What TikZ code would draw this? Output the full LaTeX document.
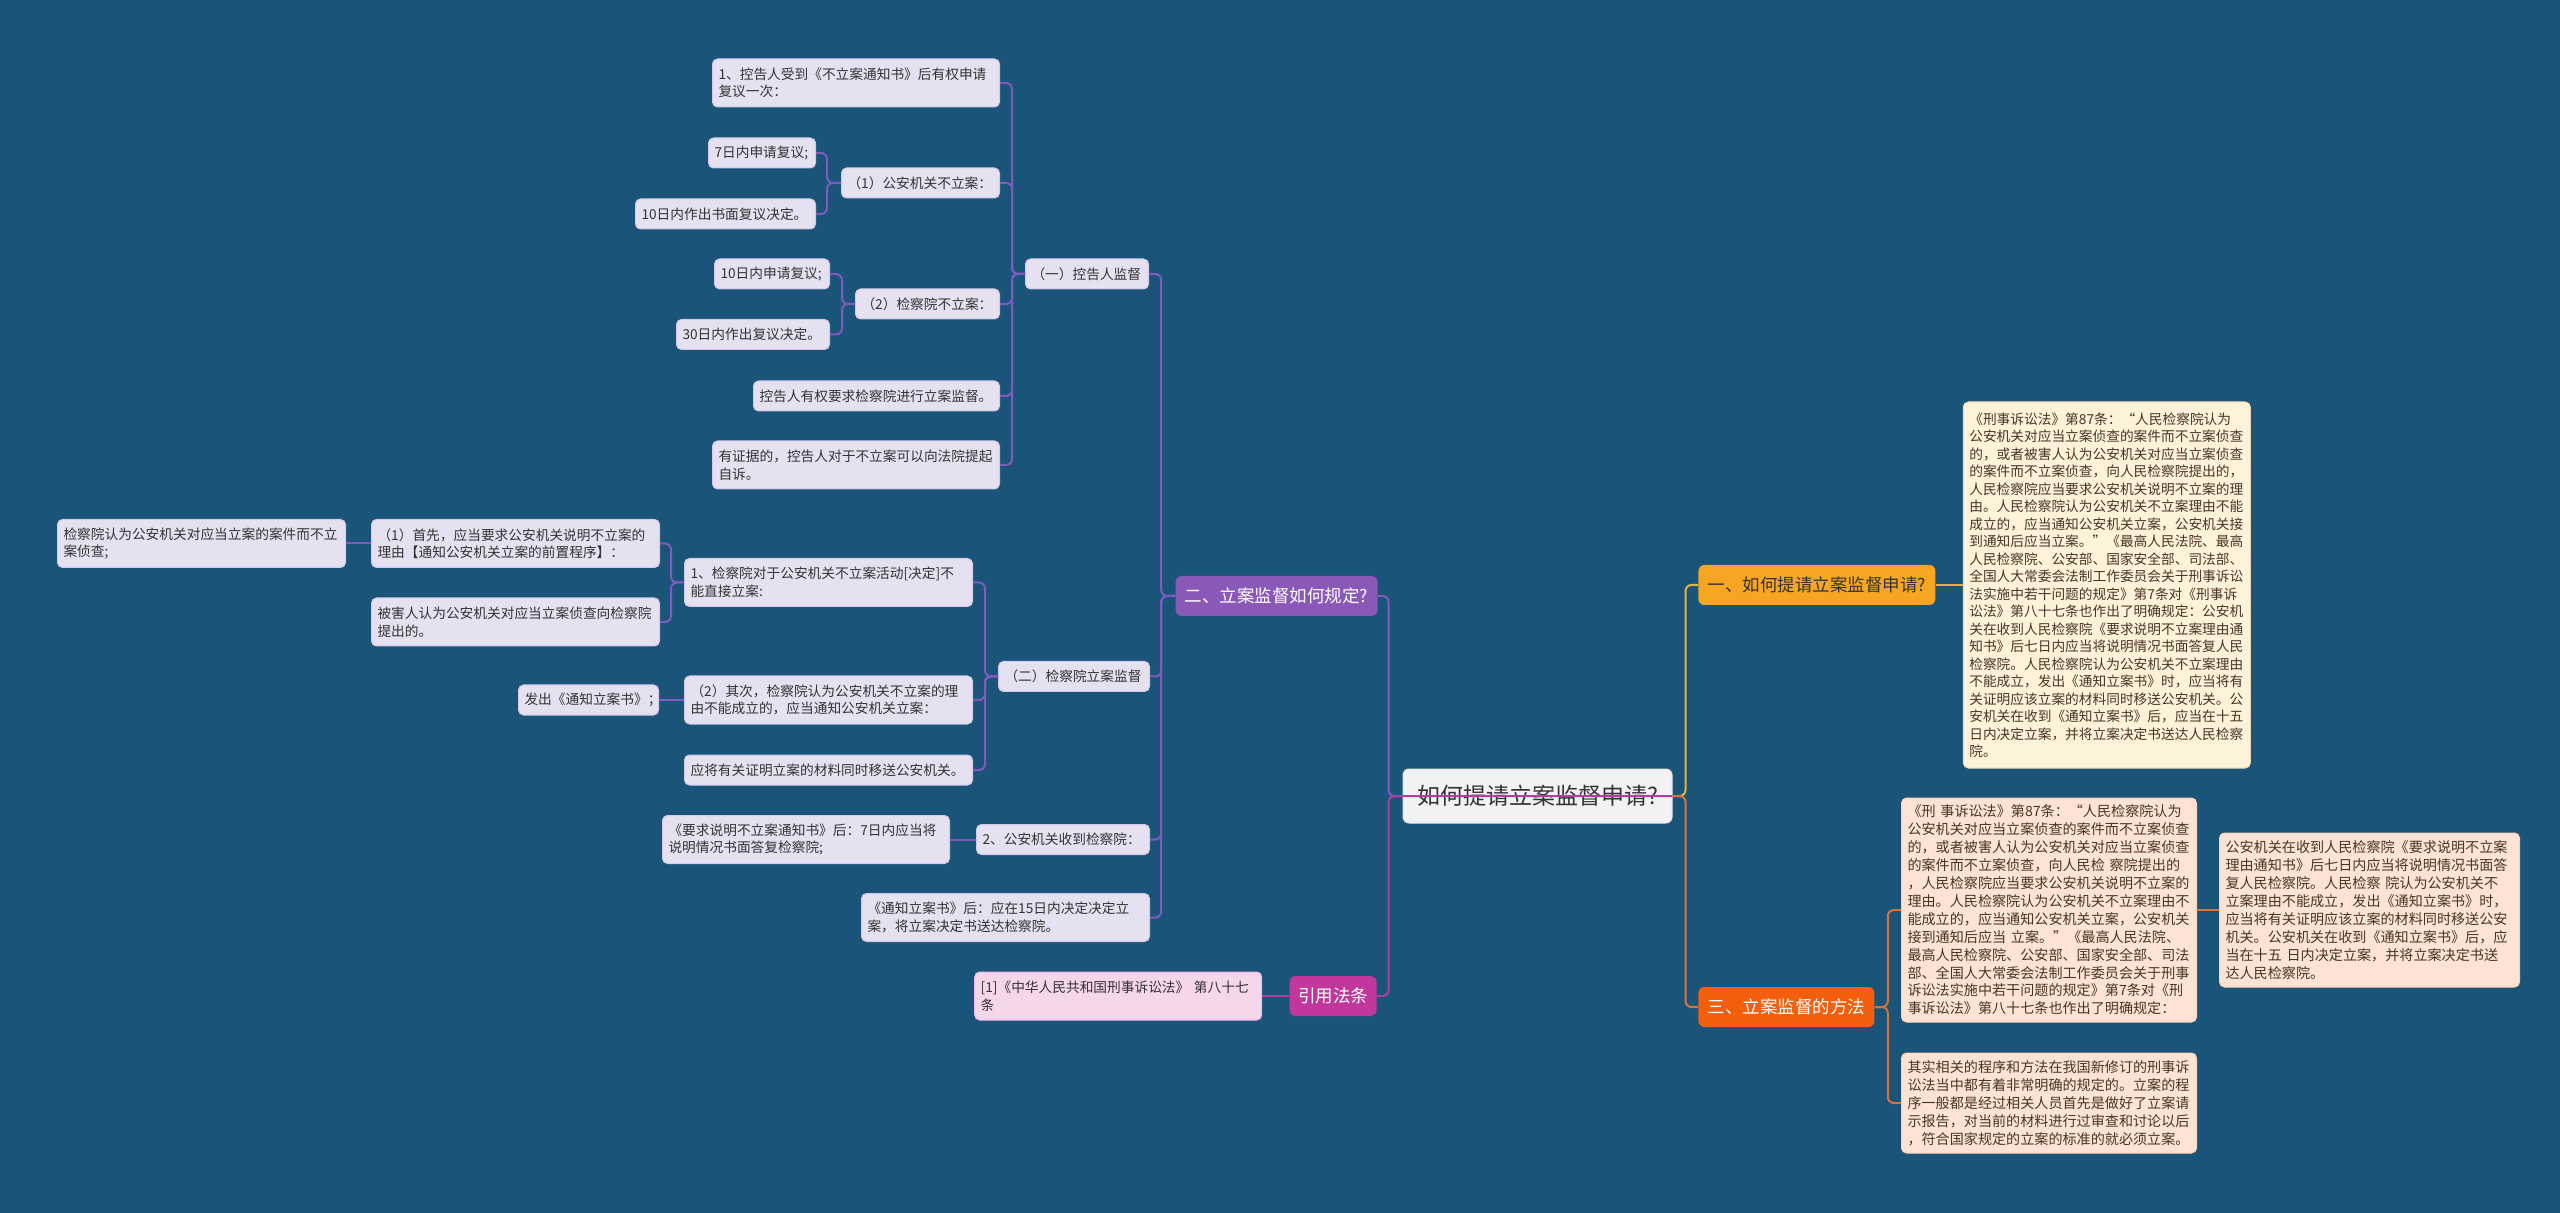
\documentclass[tikz,border=0pt]{standalone}
\usepackage{fontspec}
\setmainfont{Noto Sans CJK SC}
\usepackage{tikz}
\usetikzlibrary{positioning}

\definecolor{bgblue}{HTML}{1A5478}
\definecolor{leaffill}{HTML}{E5E1F1}
\definecolor{leafedge}{HTML}{D2CAE8}
\definecolor{purplelinkc}{HTML}{7F5BC0}
\definecolor{twofill}{HTML}{8A58B6}
\definecolor{citefill}{HTML}{C1379B}
\definecolor{citelinkc}{HTML}{B23F9D}
\definecolor{reffill}{HTML}{F5D6EB}
\definecolor{onefill}{HTML}{F6A623}
\definecolor{onelinkc}{HTML}{E2B242}
\definecolor{notefill}{HTML}{FDF2DA}
\definecolor{noteedge}{HTML}{EED9AE}
\definecolor{threefill}{HTML}{F45F0D}
\definecolor{threelinkc}{HTML}{D9733A}
\definecolor{peachfill}{HTML}{FDE3D5}
\definecolor{rootfill}{HTML}{F1F2F4}
\definecolor{inkdark}{HTML}{333333}
\definecolor{inkbrown}{HTML}{4A3522}

\newcommand{\leaffont}{\fontsize{6.85pt}{8.75pt}\selectfont}
\newcommand{\notefont}{\fontsize{7.05pt}{8.95pt}\selectfont}
\newcommand{\topfont}{\fontsize{8.75pt}{10pt}\selectfont}
\newcommand{\rootfont}{\fontsize{11.5pt}{13pt}\selectfont}

\begin{document}
\begin{tikzpicture}[
    x=0.5pt, y=-0.5pt,
    % --- node styles ---
    leaf/.style={
      rectangle, rounded corners=2.5pt, fill=leaffill, draw=leafedge,
      line width=0.5pt, text=inkdark, font=\leaffont, align=left,
      inner xsep=3pt, inner ysep=1.5pt, minimum height=15pt, anchor=east},
    twolines/.style={minimum height=24pt},
    note/.style={
      rectangle, rounded corners=2.5pt, fill=notefill, draw=noteedge,
      line width=0.5pt, text=inkbrown, font=\leaffont, align=left,
      inner xsep=3pt, inner ysep=1.5pt, anchor=west},
    peach/.style={
      note, fill=peachfill, draw=peachfill!85!orange, font=\notefont},
    refbox/.style={leaf, fill=reffill, draw=reffill!85!magenta},
    topic/.style={
      rectangle, rounded corners=3pt, minimum height=20pt, align=center,
      font=\topfont, inner sep=2pt},
    root/.style={
      rectangle, rounded corners=3pt, fill=rootfill, draw=white!80!gray,
      line width=0.5pt, minimum width=134.5pt, minimum height=27pt,
      font=\rootfont, text=inkdark},
    % --- connector styles ---
    purplelink/.style={draw=purplelinkc, line width=1pt, rounded corners=3pt},
    citelink/.style={draw=citelinkc, line width=1pt, rounded corners=3pt},
    onelink/.style={draw=onelinkc, line width=1pt, rounded corners=3pt},
    threelink/.style={draw=threelinkc, line width=1pt, rounded corners=3pt},
  ]

  \fill[bgblue] (0,0) rectangle (2560,1213);
  \useasboundingbox (0,0) rectangle (2560,1213);

  % ============== ROOT ==============
  \node[root] (root) at (1537.5,796) {如何提请立案监督申请?};

  % ============== MAIN TOPICS ==============
  \node[topic, fill=twofill, text=white, minimum width=101pt, anchor=east]
    (twotopic) at (1378,596) {二、立案监督如何规定?};
  \node[topic, fill=citefill, text=white, minimum width=43.5pt, anchor=east]
    (citetopic) at (1377,996) {引用法条};
  \node[topic, fill=onefill, text=inkdark, minimum width=118.5pt, anchor=west]
    (onetopic) at (1698,585) {一、如何提请立案监督申请?};
  \node[topic, fill=threefill, text=white, minimum width=88pt, anchor=west]
    (threetopic) at (1698,1007) {三、立案监督的方法};

  % ============== (一) COMPLAINANT BRANCH ==============
  \node[leaf, text width=55.5pt] (accuser) at (1149,274) {（一）控告人监督};
  \node[leaf, twolines, text width=137.5pt] (notice) at (1000,83)
    {1、控告人受到《不立案通知书》后有权申请\\复议一次：};
  \node[leaf, text width=73pt] (police) at (1000,183) {（1）公安机关不立案：};
  \node[leaf, text width=47.5pt] (sevenday) at (816,153) {7日内申请复议;};
  \node[leaf, text width=84pt] (tenwritten) at (816,214) {10日内作出书面复议决定。};
  \node[leaf, text width=66pt] (procur) at (1000,304) {（2）检察院不立案：};
  \node[leaf, text width=51.5pt] (tenday) at (830,274) {10日内申请复议;};
  \node[leaf, text width=70.5pt] (thirtyday) at (830,334.5) {30日内作出复议决定。};
  \node[leaf, text width=117pt] (request) at (1000,396) {控告人有权要求检察院进行立案监督。};
  \node[leaf, twolines, text width=137.5pt] (selfsuit) at (1000,465)
    {有证据的，控告人对于不立案可以向法院提起\\自诉。};

  % ============== (二) PROCURATORATE BRANCH ==============
  \node[leaf, text width=69.5pt] (procsup) at (1150,676.5) {（二）检察院立案监督};
  \node[leaf, twolines, text width=138pt] (nodirect) at (973,582.5)
    {1、检察院对于公安机关不立案活动[决定]不\\能直接立案:};
  \node[leaf, twolines, text width=138pt] (firstask) at (660,543.5)
    {（1）首先，应当要求公安机关说明不立案的\\理由【通知公安机关立案的前置程序】：};
  \node[leaf, twolines, text width=138pt, left=12.5pt of firstask] (procview)
    {检察院认为公安机关对应当立案的案件而不立\\案侦查;};
  \node[leaf, twolines, text width=138pt] (victim) at (660,622)
    {被害人认为公安机关对应当立案侦查向检察院\\提出的。};
  \node[leaf, twolines, text width=138pt] (secondly) at (973,700)
    {（2）其次，检察院认为公安机关不立案的理\\由不能成立的，应当通知公安机关立案：};
  \node[leaf, text width=64pt, left=12.5pt of secondly] (issue) {发出《通知立案书》；};
  \node[leaf, text width=138pt] (material) at (973,770) {应将有关证明立案的材料同时移送公安机关。};

  % ============== POLICE RECEIPT ==============
  \node[leaf, text width=80.5pt] (receipt) at (1150,839.5) {2、公安机关收到检察院：};
  \node[leaf, twolines, text width=137.5pt, left=13pt of receipt] (sevenreply)
    {《要求说明不立案通知书》后：7日内应当将\\说明情况书面答复检察院;};
  \node[leaf, twolines, text width=138pt] (fifteen) at (1150,917.5)
    {《通知立案书》后：应在15日内决定决定立\\案，将立案决定书送达检察院。};

  % ============== CITED LAW ==============
  \node[refbox, twolines, text width=137.5pt, left=13.5pt of citetopic] (lawref)
    {[1]《中华人民共和国刑事诉讼法》 第八十七\\条};

  % ============== RIGHT NOTES ==============
  \node[note, text width=137.5pt, minimum height=183pt, right=13.5pt of onetopic] (artnote)
    {《刑事诉讼法》第87条：“人民检察院认为\\
     公安机关对应当立案侦查的案件而不立案侦查\\
     的，或者被害人认为公安机关对应当立案侦查\\
     的案件而不立案侦查，向人民检察院提出的，\\
     人民检察院应当要求公安机关说明不立案的理\\
     由。人民检察院认为公安机关不立案理由不能\\
     成立的，应当通知公安机关立案，公安机关接\\
     到通知后应当立案。”《最高人民法院、最高\\
     人民检察院、公安部、国家安全部、司法部、\\
     全国人大常委会法制工作委员会关于刑事诉讼\\
     法实施中若干问题的规定》第7条对《刑事诉\\
     讼法》第八十七条也作出了明确规定：公安机\\
     关在收到人民检察院《要求说明不立案理由通\\
     知书》后七日内应当将说明情况书面答复人民\\
     检察院。人民检察院认为公安机关不立案理由\\
     不能成立，发出《通知立案书》时，应当将有\\
     关证明应该立案的材料同时移送公安机关。公\\
     安机关在收到《通知立案书》后，应当在十五\\
     日内决定立案，并将立案决定书送达人民检察\\
     院。};

  \node[peach, text width=141.5pt, minimum height=112pt] (methodnote) at (1901,910)
    {《刑 事诉讼法》第87条：“人民检察院认为\\
     公安机关对应当立案侦查的案件而不立案侦查\\
     的，或者被害人认为公安机关对应当立案侦查\\
     的案件而不立案侦查，向人民检 察院提出的\\
     ，人民检察院应当要求公安机关说明不立案的\\
     理由。人民检察院认为公安机关不立案理由不\\
     能成立的，应当通知公安机关立案，公安机关\\
     接到通知后应当 立案。”《最高人民法院、\\
     最高人民检察院、公安部、国家安全部、司法\\
     部、全国人大常委会法制工作委员会关于刑事\\
     诉讼法实施中若干问题的规定》第7条对《刑\\
     事诉讼法》第八十七条也作出了明确规定：};
  \node[peach, text width=144pt, minimum height=77pt, right=11pt of methodnote] (policenote)
    {公安机关在收到人民检察院《要求说明不立案\\
     理由通知书》后七日内应当将说明情况书面答\\
     复人民检察院。人民检察 院认为公安机关不\\
     立案理由不能成立，发出《通知立案书》时，\\
     应当将有关证明应该立案的材料同时移送公安\\
     机关。公安机关在收到《通知立案书》后，应\\
     当在十五 日内决定立案，并将立案决定书送\\
     达人民检察院。};
  \node[peach, text width=141.5pt, minimum height=50pt] (summary) at (1901,1103)
    {其实相关的程序和方法在我国新修订的刑事诉\\
     讼法当中都有着非常明确的规定的。立案的程\\
     序一般都是经过相关人员首先是做好了立案请\\
     示报告，对当前的材料进行过审查和讨论以后\\
     ，符合国家规定的立案的标准的就必须立案。};

  % ============== CONNECTORS: left side ==============
  \draw[purplelink] (accuser.west) -- ++(-13,0) |- (notice.east);
  \draw[purplelink] (accuser.west) -- ++(-13,0) |- (police.east);
  \draw[purplelink] (accuser.west) -- ++(-13,0) |- (procur.east);
  \draw[purplelink] (accuser.west) -- ++(-13,0) |- (request.east);
  \draw[purplelink] (accuser.west) -- ++(-13,0) |- (selfsuit.east);

  \draw[purplelink] (police.west) -- ++(-14,0) |- (sevenday.east);
  \draw[purplelink] (police.west) -- ++(-14,0) |- (tenwritten.east);
  \draw[purplelink] (procur.west) -- ++(-13,0) |- (tenday.east);
  \draw[purplelink] (procur.west) -- ++(-13,0) |- (thirtyday.east);

  \draw[purplelink] (procsup.west) -- ++(-13,0) |- (nodirect.east);
  \draw[purplelink] (procsup.west) -- ++(-13,0) |- (secondly.east);
  \draw[purplelink] (procsup.west) -- ++(-13,0) |- (material.east);

  \draw[purplelink] (nodirect.west) -- ++(-13,0) |- (firstask.east);
  \draw[purplelink] (nodirect.west) -- ++(-13,0) |- (victim.east);
  \draw[purplelink] (firstask.west) -- (procview.east);
  \draw[purplelink] (secondly.west) -- (issue.east);
  \draw[purplelink] (receipt.west)  -- (sevenreply.east);

  \draw[purplelink] (twotopic.west) -- ++(-14,0) |- (accuser.east);
  \draw[purplelink] (twotopic.west) -- ++(-14,0) |- (procsup.east);
  \draw[purplelink] (twotopic.west) -- ++(-14,0) |- (receipt.east);
  \draw[purplelink] (twotopic.west) -- ++(-14,0) |- (fifteen.east);

  \draw[purplelink] (root.west) -- ++(-14,0) |- (twotopic.east);
  % cited-law line runs across the root box
  \draw[citelink] (root.east) -- (root.west) -- ++(-14,0) |- (citetopic.east);
  \draw[citelink] (citetopic.west) -- (lawref.east);

  % ============== CONNECTORS: right side ==============
  \draw[onelink] (root.east) -- ++(13,0) |- (onetopic.west);
  \draw[onelink] (onetopic.east) -- (artnote.west);

  \draw[threelink] (root.east) -- ++(13,0) |- (threetopic.west);
  \draw[threelink] (threetopic.east) -- ++(13,0) |- (methodnote.west);
  \draw[threelink] (threetopic.east) -- ++(13,0) |- (summary.west);
  \draw[threelink] (methodnote.east) -- (policenote.west);

\end{tikzpicture}
\end{document}
